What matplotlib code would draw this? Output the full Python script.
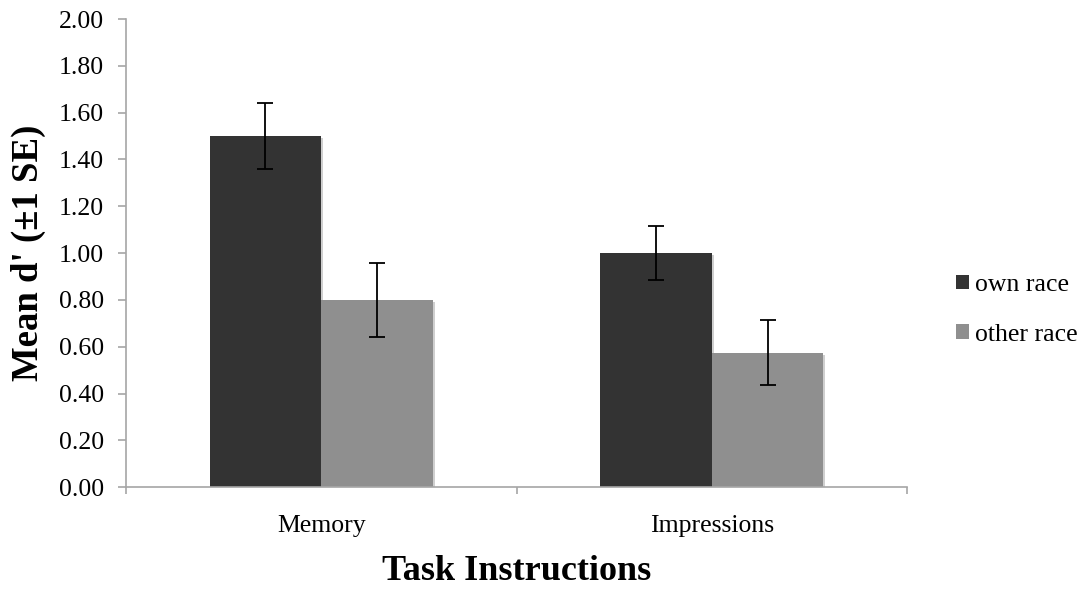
import matplotlib
matplotlib.use("Agg")
import matplotlib.pyplot as plt
import matplotlib.patheffects as pe
from matplotlib.patches import Patch
import numpy as np

categories = ["Memory", "Impressions"]
series_names = ["own race", "other race"]
own_race = [1.50, 1.00]
other_race = [0.80, 0.575]
own_se = [0.142, 0.115]
other_se = [0.159, 0.138]
y_ticks = [0.00, 0.20, 0.40, 0.60, 0.80, 1.00, 1.20, 1.40, 1.60, 1.80, 2.00]

plt.rcParams["font.family"] = ["Liberation Serif", "DejaVu Serif"]

fig = plt.figure(figsize=(10.9, 5.91), dpi=100)
ax = fig.add_axes([126 / 1090, 1 - 487.3 / 591, 781 / 1090, (487.3 - 19) / 591])

colors = ["#333333", "#8f8f8f"]
width = 1 / 3.5
x = np.arange(len(categories))
shadow = [pe.SimplePatchShadow(offset=(1.5, -1.5), shadow_rgbFace="#777777", alpha=0.35), pe.Normal()]

for i, (vals, errs) in enumerate([(own_race, own_se), (other_race, other_se)]):
    pos = x + (i - 0.5) * width
    ax.bar(pos, vals, width=width, color=colors[i], zorder=2, path_effects=shadow)
    ax.errorbar(pos, vals, yerr=errs, fmt="none", ecolor="black", elinewidth=1.3,
                capsize=5.5, capthick=1.3, zorder=3)

ax.set_xlim(-0.5, 1.5)
ax.set_ylim(0, 2.0)
ax.set_yticks(y_ticks)
ax.set_yticklabels([f"{v:.2f}" for v in y_ticks], fontsize=18.5)
ax.set_xticks(x)
ax.set_xticklabels(categories, fontsize=18.5)
ax.set_xticks([-0.5, 0.5, 1.5], minor=True)
ax.tick_params(axis="x", which="major", length=0, pad=20)
ax.tick_params(axis="x", which="minor", length=5, width=1.2, color="#a6a6a6")
ax.tick_params(axis="y", length=6, width=1.2, color="#a6a6a6", pad=10)

for s in ["top", "right"]:
    ax.spines[s].set_visible(False)
for s in ["left", "bottom"]:
    ax.spines[s].set_color("#a6a6a6")
    ax.spines[s].set_linewidth(1.2)

fig.text(28.5 / 1090, 1 - 252.5 / 591, "Mean d' (\u00b11 SE)", rotation=90,
         ha="center", va="center", fontsize=26.5, fontweight="bold")
fig.text(516.5 / 1090, 1 - 580 / 591, "Task Instructions", ha="center",
         va="baseline", fontsize=26, fontweight="bold")

handles = [Patch(facecolor=c, edgecolor="none") for c in colors]
fig.legend(handles, series_names, loc="upper left",
           bbox_to_anchor=(956 / 1090, 1 - 274 / 591), frameon=False,
           fontsize=18.5, handlelength=0.5, handleheight=0.5, handletextpad=0.25,
           labelspacing=1.08, borderaxespad=0, borderpad=0)

fig.savefig("out.png", dpi=100)
